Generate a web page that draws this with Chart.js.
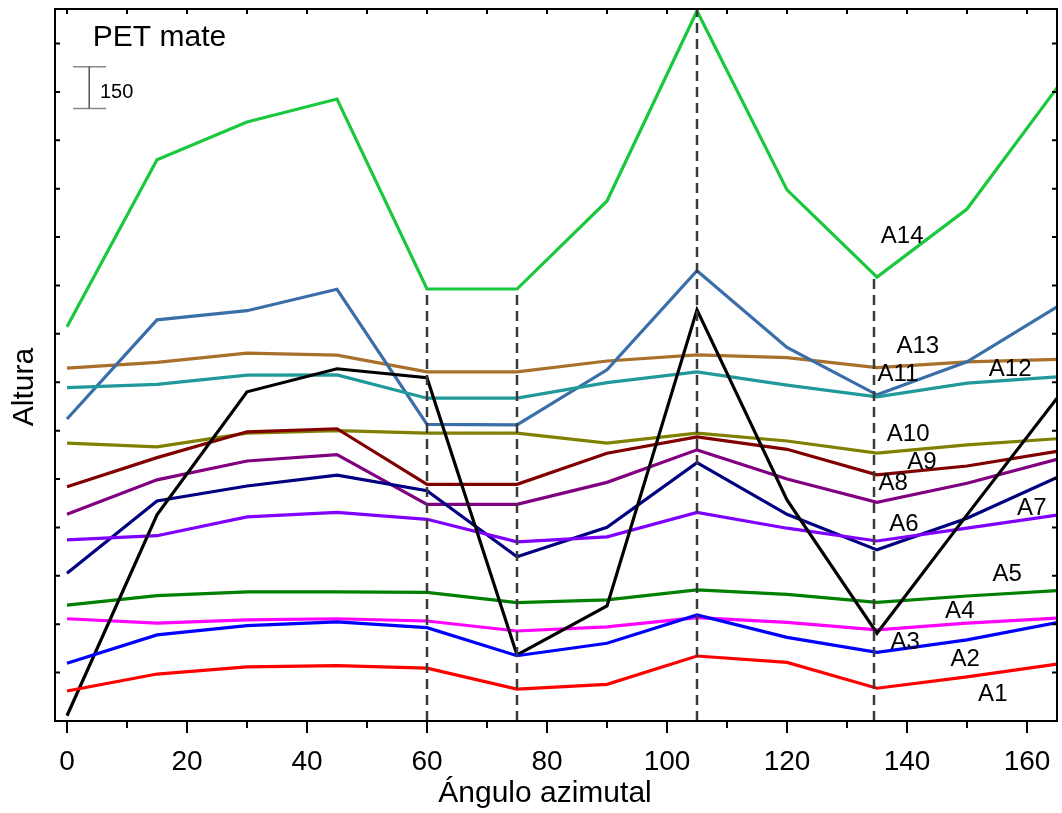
<!DOCTYPE html>
<html><head><meta charset="utf-8">
<script src="https://cdn.jsdelivr.net/npm/chart.js@4.4.0/dist/chart.umd.min.js"></script>
<style>html,body{margin:0;padding:0;background:#fff;}canvas{display:block;}</style>
</head><body>
<canvas id="c" width="1062" height="813" style="width:1062px;height:813px"></canvas>
<script>
const angles = [0,15,30,45,60,75,90,105,120,135,150,165];
const xTickValues = [0,20,40,60,80,100,120,140,160];
const xMinorValues = [10,30,50,70,90,110,130,150];
const seriesNames = ['A1','A2','A3','A4','A5','A6','A7','A8','A9','A10','A11','A12','A13','A14'];
const A1  = [108,169,195,199,190,115,132,234,211,118,159,205];
const A2  = [208,310,343,357,336,235,280,382,301,247,292,354];
const A3  = [19,742,1185,1268,1236,238,414,1480,796,316,742,1162];
const A4  = [368,352,364,368,360,324,339,372,355,328,352,370];
const A5  = [417,451,465,465,463,426,436,472,456,427,450,469];
const A6  = [652,667,735,751,726,645,663,751,694,648,694,741];
const A7  = [532,792,846,885,829,591,697,930,744,616,730,877];
const A8  = [744,868,936,959,780,780,859,976,871,787,856,942];
const A9  = [843,948,1041,1052,852,852,964,1023,978,886,918,971];
const A10 = [1000,987,1036,1045,1036,1036,1000,1036,1008,964,994,1016];
const A11 = [1200,1212,1245,1246,1162,1162,1218,1257,1209,1167,1216,1239];
const A12 = [1087,1444,1477,1554,1068,1066,1264,1621,1345,1174,1293,1491];
const A13 = [1270,1291,1324,1317,1257,1257,1296,1318,1308,1272,1293,1302];
const A14 = [1419,2020,2156,2239,1555,1555,1872,2556,1912,1598,1843,2279];
const seriesValues = [A1,A2,A3,A4,A5,A6,A7,A8,A9,A10,A11,A12,A13,A14];
const seriesColors = ['#ff0000','#0000ff','#000000','#ff00ff','#008000','#8000ff','#000080','#800080','#800000','#808000','#21999a','#3a6ea8','#a8702a','#19c83c'];
// text labels placed in data coordinates
const labelX = [154.3,149.7,139.7,148.8,156.7,139.5,160.8,137.7,142.5,140.2,138.5,157.2,141.8,139.2];
const labelY = [97,223,284,396,529,709,767,857,932,1033,1249,1267,1350,1746];
// vertical dashed reference lines
const vlineX = [60,75,105,134.5];
const vlineTop = [1555,1555,2563,1598];
const yMax = 2563;
const yTickStep = 174.2;
const scaleBar = {x:3.7, x0:1.0, x1:6.5, y0:2205, y1:2355, label:'150', lx:5.5, ly:2262};
const titleText = {text:'PET mate', x:4.3, y:2459};

const FONT = '"Liberation Sans", Arial, sans-serif';
Chart.defaults.font.family = FONT;

const datasets = [];
vlineX.forEach((vx,i)=>{
  datasets.push({data:[{x:vx,y:0},{x:vx,y:vlineTop[i]}], borderColor:'#3a3a3a', borderWidth:2.5,
    borderDash:[10,6], pointRadius:0, order:0});
});
seriesValues.forEach((arr,i)=>{
  datasets.push({label:seriesNames[i], data:angles.map((a,j)=>({x:a,y:arr[j]})),
    borderColor:seriesColors[i], borderWidth:3.2, pointRadius:0, tension:0, order:1});
});

const extras = {
  id:'extras',
  afterDraw(chart){
    const c = chart.ctx, xs = chart.scales.x, ys = chart.scales.y, a = chart.chartArea;
    c.save();
    c.strokeStyle = '#000'; c.lineWidth = 2;
    c.strokeRect(a.left, a.top, a.right - a.left, a.bottom - a.top);
    c.beginPath();
    xTickValues.forEach(v=>{const p = xs.getPixelForValue(v); c.moveTo(p,a.bottom); c.lineTo(p,a.bottom+12);});
    xMinorValues.forEach(v=>{const p = xs.getPixelForValue(v); c.moveTo(p,a.bottom); c.lineTo(p,a.bottom+7);});
    xTickValues.concat(xMinorValues).forEach(v=>{const p = xs.getPixelForValue(v); c.moveTo(p,a.top); c.lineTo(p,a.top+5);});
    for (let v = yTickStep; v < yMax; v += yTickStep){
      const p = ys.getPixelForValue(v);
      c.moveTo(a.left,p); c.lineTo(a.left+5,p);
      c.moveTo(a.right,p); c.lineTo(a.right-5,p);
    }
    c.stroke();
    c.fillStyle = '#000'; c.font = '24px ' + FONT; c.textAlign = 'center'; c.textBaseline = 'middle';
    seriesNames.forEach((n,i)=>{ c.fillText(n, xs.getPixelForValue(labelX[i]), ys.getPixelForValue(labelY[i])); });
    c.font = '30px ' + FONT; c.textAlign = 'left';
    c.fillText(titleText.text, xs.getPixelForValue(titleText.x), ys.getPixelForValue(titleText.y));
    const bx = xs.getPixelForValue(scaleBar.x), bx0 = xs.getPixelForValue(scaleBar.x0), bx1 = xs.getPixelForValue(scaleBar.x1);
    const by0 = ys.getPixelForValue(scaleBar.y0), by1 = ys.getPixelForValue(scaleBar.y1);
    c.lineWidth = 1.5; c.strokeStyle = '#888';
    c.beginPath(); c.moveTo(bx0,by0); c.lineTo(bx1,by0); c.moveTo(bx0,by1); c.lineTo(bx1,by1); c.stroke();
    c.strokeStyle = '#555'; c.beginPath(); c.moveTo(bx,by0); c.lineTo(bx,by1); c.stroke();
    c.font = '20px ' + FONT; c.fillText(scaleBar.label, xs.getPixelForValue(scaleBar.lx), ys.getPixelForValue(scaleBar.ly));
    c.font = '30px ' + FONT; c.textAlign = 'center'; c.textBaseline = 'alphabetic';
    c.fillText('Ángulo azimutal', 545, 802);
    c.translate(33, 387); c.rotate(-Math.PI/2);
    c.fillText('Altura', 0, 0);
    c.restore();
  }
};

new Chart(document.getElementById('c'), {
  type:'line',
  data:{datasets},
  options:{
    responsive:false, animation:false, events:[],
    layout:{padding:{left:55, right:5, top:9, bottom:34}},
    plugins:{legend:{display:false}, tooltip:{enabled:false}},
    scales:{
      x:{type:'linear', min:-2, max:165,
        afterBuildTicks:(s)=>{ s.ticks = xTickValues.map(v=>({value:v})); },
        afterFit:(s)=>{ s.height = 58; s.paddingLeft = 0; s.paddingRight = 0; },
        grid:{display:false, drawTicks:false, tickLength:0},
        border:{display:false},
        ticks:{font:{size:28, family:FONT}, color:'#000', padding:24, maxRotation:0, autoSkip:false}
      },
      y:{type:'linear', min:0, max:yMax,
        afterFit:(s)=>{ s.width = 0; s.paddingTop = 0; s.paddingBottom = 0; },
        grid:{display:false, drawTicks:false, tickLength:0},
        border:{display:false},
        ticks:{display:false}
      }
    }
  },
  plugins:[extras]
});
</script>
</body></html>
